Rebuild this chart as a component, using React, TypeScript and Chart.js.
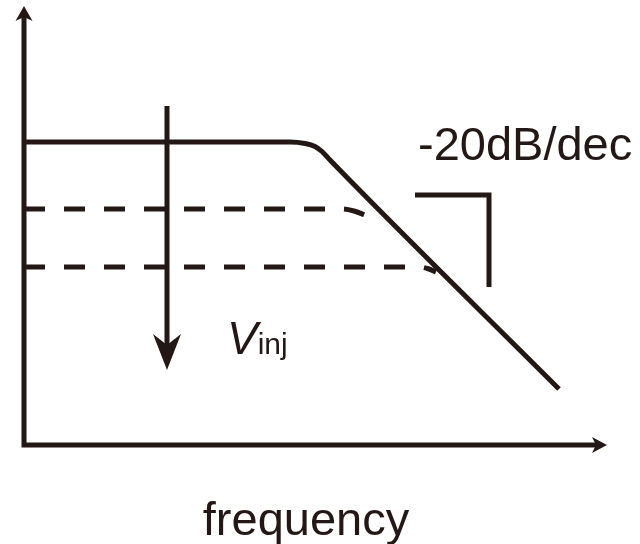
import React, { useEffect, useRef } from "react";
import { Chart, registerables } from "chart.js";

Chart.register(...registerables);

const INK = "#231815";
const FONT = '"Liberation Sans", Arial, Helvetica, sans-serif';

// x: log10 frequency (decades from origin), y: gain (dB)
const AXES_PATH = [
  { x: 0, y: 85.6 },
  { x: 0, y: 0 },
  { x: 5.72, y: 0 },
];
const RESPONSE_HIGH = [
  { x: 0, y: 60.6 },
  { x: 2.66, y: 60.6 },
  { x: 2.81, y: 60.3 },
  { x: 2.91, y: 59.7 },
  { x: 2.98, y: 58.7 },
  { x: 3.06, y: 57.0 },
  { x: 5.35, y: 11.2 },
];
const RESPONSE_MID = [
  { x: 0, y: 47.2 },
  { x: 3.18, y: 47.2 },
  { x: 3.3, y: 46.8 },
  { x: 3.41, y: 46.0 },
];
const RESPONSE_LOW = [
  { x: 0, y: 35.6 },
  { x: 3.95, y: 35.6 },
  { x: 4.05, y: 35.2 },
  { x: 4.12, y: 34.6 },
];
const SLOPE_MARK = [
  { x: 3.91, y: 50 },
  { x: 4.65, y: 50 },
  { x: 4.65, y: 31.6 },
];
const VINJ_SHAFT = [
  { x: 1.43, y: 67.8 },
  { x: 1.43, y: 19 },
];

// arrowheads: tip in data units, direction, sizes
const ARROWS = [
  { x: 0, y: 87.8, dir: "up", len: 15, half: 8.5, notch: 4 },
  { x: 5.83, y: 0, dir: "right", len: 15, half: 8, notch: 4 },
  { x: 1.43, y: 15, dir: "down", len: 36, half: 14, notch: 11 },
];

const SLOPE_LABEL = { text: "-20dB/dec", x: 3.94, y: 57 };
const VINJ_LABEL = { main: "V", sub: "inj", x: 2.03, y: 18.2 };
const X_TITLE = { text: "frequency", x: 2.82, y: -18 };

const decorations = {
  id: "decorations",
  afterDatasetsDraw(chart: any) {
    const { ctx, scales } = chart;
    const xs = scales.x;
    const ys = scales.y;
    ctx.save();
    ctx.fillStyle = INK;
    for (const a of ARROWS) {
      const tx = xs.getPixelForValue(a.x);
      const ty = ys.getPixelForValue(a.y);
      let dx = 0, dy = 0;
      if (a.dir === "up") dy = -1;
      else if (a.dir === "down") dy = 1;
      else if (a.dir === "right") dx = 1;
      else dx = -1;
      const px = -dy, py = dx;
      const bx = tx - dx * a.len, by = ty - dy * a.len;
      const nx = tx - dx * (a.len - a.notch), ny = ty - dy * (a.len - a.notch);
      ctx.beginPath();
      ctx.moveTo(tx, ty);
      ctx.lineTo(bx + px * a.half, by + py * a.half);
      ctx.lineTo(nx, ny);
      ctx.lineTo(bx - px * a.half, by - py * a.half);
      ctx.closePath();
      ctx.fill();
    }

    ctx.textBaseline = "alphabetic";
    ctx.font = `47px ${FONT}`;
    ctx.textAlign = "left";
    ctx.fillText(SLOPE_LABEL.text, xs.getPixelForValue(SLOPE_LABEL.x), ys.getPixelForValue(SLOPE_LABEL.y));

    ctx.textAlign = "center";
    ctx.fillText(X_TITLE.text, xs.getPixelForValue(X_TITLE.x), ys.getPixelForValue(X_TITLE.y));

    ctx.textAlign = "left";
    const vx = xs.getPixelForValue(VINJ_LABEL.x);
    const vy = ys.getPixelForValue(VINJ_LABEL.y);
    ctx.font = `italic 46px ${FONT}`;
    ctx.fillText(VINJ_LABEL.main, vx, vy);
    const w = ctx.measureText(VINJ_LABEL.main).width;
    ctx.font = `30px ${FONT}`;
    ctx.fillText(VINJ_LABEL.sub, vx + w, vy);
    ctx.restore();
  },
};

function line(data: any[], extra: any = {}) {
  return {
    data,
    showLine: true,
    borderColor: INK,
    backgroundColor: INK,
    borderWidth: 5,
    pointRadius: 0,
    fill: false,
    borderCapStyle: "butt",
    borderJoinStyle: "miter",
    ...extra,
  };
}

export default function App() {
  const ref = useRef<HTMLCanvasElement | null>(null);
  useEffect(() => {
    if (!ref.current) return;
    const chart = new Chart(ref.current, {
      type: "scatter",
      data: {
        datasets: [
          line(AXES_PATH),
          line(RESPONSE_HIGH, { cubicInterpolationMode: "monotone" }),
          line(RESPONSE_MID, { cubicInterpolationMode: "monotone", borderDash: [21, 19] }),
          line(RESPONSE_LOW, { cubicInterpolationMode: "monotone", borderDash: [21, 19] }),
          line(SLOPE_MARK),
          line(VINJ_SHAFT),
        ] as any,
      },
      options: {
        responsive: false,
        animation: false,
        events: [],
        layout: { padding: 0 },
        plugins: { legend: { display: false }, tooltip: { enabled: false } },
        scales: {
          x: { type: "linear", display: false, min: -0.24, max: 6.16 },
          y: { type: "linear", display: false, min: -19.8, max: 89 },
        },
      },
      plugins: [decorations],
    });
    return () => chart.destroy();
  }, []);
  return (
    <div style={{ position: "fixed", left: 0, top: 0, width: 640, height: 544, background: "#fff" }}>
      <canvas ref={ref} width={640} height={544} style={{ width: 640, height: 544, display: "block" }} />
    </div>
  );
}
